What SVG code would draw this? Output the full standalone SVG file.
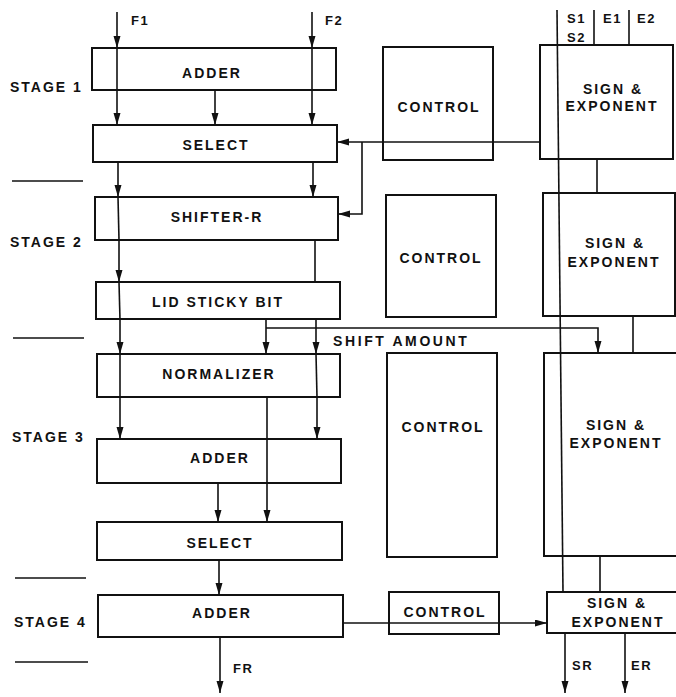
<svg xmlns="http://www.w3.org/2000/svg" width="676" height="697" viewBox="0 0 676 697">
<defs>
<marker id="ah" markerUnits="userSpaceOnUse" markerWidth="12" markerHeight="8" refX="12" refY="3.5" orient="auto">
<path d="M0,0 L12,3.5 L0,7 z" fill="#111"/>
</marker>
<style>
.box{fill:none;stroke:#111;stroke-width:2}
.ln{fill:none;stroke:#111;stroke-width:1.6}
.ar{fill:none;stroke:#111;stroke-width:1.6;marker-end:url(#ah)}
text{font-family:"Liberation Sans",Arial,sans-serif;font-weight:bold;font-size:14px;fill:#111;letter-spacing:2px}
.c{text-anchor:middle}
.sm{font-size:13px;letter-spacing:1.5px}
.sa{font-size:14px;letter-spacing:2.6px}
</style>
</defs>
<rect width="676" height="697" fill="#fff"/>

<g id="stages">
<text x="10" y="92">STAGE 1</text>
<text x="10" y="247">STAGE 2</text>
<text x="12" y="442">STAGE 3</text>
<text x="14" y="627">STAGE 4</text>
<line class="ln" x1="12" y1="181" x2="83" y2="181"/>
<line class="ln" x1="13" y1="338" x2="84" y2="338"/>
<line class="ln" x1="15" y1="578" x2="86" y2="578"/>
<line class="ln" x1="15" y1="662" x2="88" y2="662"/>
</g>

<g id="adder1"><rect class="box" x="92" y="48" width="244" height="42"/><text class="c" x="212" y="78">ADDER</text></g>
<g id="select1"><rect class="box" x="93" y="125" width="244" height="37"/><text class="c" x="216" y="150">SELECT</text></g>
<g id="shifter"><rect class="box" x="95" y="197" width="243" height="43"/><text class="c" x="217" y="222">SHIFTER-R</text></g>
<g id="lid"><rect class="box" x="96" y="282" width="244" height="37"/><text class="c" x="218" y="307">LID STICKY BIT</text></g>
<g id="normalizer"><rect class="box" x="97" y="354" width="243" height="43"/><text class="c" x="219" y="379">NORMALIZER</text></g>
<g id="adder3"><rect class="box" x="97" y="439" width="244" height="44"/><text class="c" x="220" y="463">ADDER</text></g>
<g id="select3"><rect class="box" x="97" y="522" width="245" height="38"/><text class="c" x="220" y="548">SELECT</text></g>
<g id="adder4"><rect class="box" x="98" y="595" width="245" height="42"/><text class="c" x="222" y="618">ADDER</text></g>

<g id="control1"><rect class="box" x="383" y="47" width="110" height="113"/><text class="c" x="439" y="112">CONTROL</text></g>
<g id="control2"><rect class="box" x="386" y="195" width="110" height="122"/><text class="c" x="441" y="263">CONTROL</text></g>
<g id="control3"><rect class="box" x="387" y="353" width="110" height="204"/><text class="c" x="443" y="432">CONTROL</text></g>
<g id="control4"><rect class="box" x="389" y="592" width="110" height="42"/><text class="c" x="445" y="617">CONTROL</text></g>

<g id="se1"><rect class="box" x="540" y="45" width="133" height="114"/><text class="c" x="613" y="94">SIGN &amp;</text><text class="c" x="612" y="111">EXPONENT</text></g>
<g id="se2"><rect class="box" x="543" y="193" width="132" height="123"/><text class="c" x="615" y="248">SIGN &amp;</text><text class="c" x="614" y="267">EXPONENT</text></g>
<g id="se3"><rect class="box" x="544" y="353" width="140" height="203"/><text class="c" x="616" y="430">SIGN &amp;</text><text class="c" x="616" y="448">EXPONENT</text></g>
<g id="se4"><rect class="box" x="547" y="592" width="140" height="41"/><text class="c" x="617" y="608">SIGN &amp;</text><text class="c" x="618" y="627">EXPONENT</text></g>

<g id="labels">
<text x="131" y="25" class="sm">F1</text>
<text x="325" y="25" class="sm">F2</text>
<text x="567" y="23" class="sm">S1</text>
<text x="567" y="42" class="sm">S2</text>
<text x="603" y="23" class="sm">E1</text>
<text x="637" y="23" class="sm">E2</text>
<text x="333" y="346" class="sa">SHIFT AMOUNT</text>
<text x="233" y="673" class="sm">FR</text>
<text x="572" y="670" class="sm">SR</text>
<text x="631" y="670" class="sm">ER</text>
</g>

<g id="connectors">
<line class="ar" x1="117" y1="12" x2="117" y2="48"/>
<line class="ln" x1="117" y1="48" x2="117" y2="90"/>
<line class="ar" x1="117" y1="90" x2="117" y2="125"/>
<line class="ar" x1="118" y1="162" x2="118" y2="197"/>
<line class="ln" x1="118" y1="197" x2="119" y2="240"/>
<line class="ar" x1="119" y1="240" x2="119" y2="282"/>
<line class="ln" x1="119" y1="282" x2="120" y2="320"/>
<line class="ar" x1="120" y1="320" x2="120" y2="354"/>
<line class="ln" x1="120" y1="354" x2="120" y2="397"/>
<line class="ar" x1="120" y1="397" x2="120" y2="439"/>
<line class="ar" x1="312" y1="12" x2="312" y2="48"/>
<line class="ln" x1="312" y1="48" x2="312" y2="90"/>
<line class="ar" x1="312" y1="90" x2="312" y2="125"/>
<line class="ar" x1="313" y1="162" x2="313" y2="197"/>
<line class="ln" x1="315" y1="240" x2="315" y2="282"/>
<line class="ar" x1="316" y1="320" x2="316" y2="354"/>
<line class="ln" x1="316" y1="354" x2="317" y2="397"/>
<line class="ar" x1="317" y1="397" x2="317" y2="439"/>
<line class="ar" x1="215" y1="90" x2="215" y2="125"/>
<line class="ar" x1="266" y1="320" x2="266" y2="354"/>
<polyline class="ar" points="266,328 598,328 598,353"/>
<line class="ln" x1="267" y1="397" x2="267" y2="483"/>
<line class="ar" x1="267" y1="483" x2="267" y2="522"/>
<line class="ar" x1="218" y1="483" x2="218" y2="522"/>
<line class="ar" x1="219" y1="560" x2="219" y2="595"/>
<line class="ar" x1="220" y1="637" x2="220" y2="693"/>
<line class="ar" x1="540" y1="142" x2="337" y2="142"/>
<polyline class="ar" points="362,142 362,214 338,214"/>
<line class="ar" x1="343" y1="623" x2="547" y2="623"/>
<line class="ln" x1="557" y1="10" x2="563" y2="592"/>
<line class="ln" x1="594" y1="10" x2="594" y2="45"/>
<line class="ln" x1="629" y1="10" x2="629" y2="45"/>
<line class="ln" x1="597" y1="159" x2="597" y2="193"/>
<line class="ln" x1="633" y1="316" x2="633" y2="353"/>
<line class="ln" x1="600" y1="556" x2="600" y2="592"/>
<line class="ar" x1="565" y1="633" x2="565" y2="693"/>
<line class="ar" x1="625" y1="633" x2="625" y2="693"/>
</g>
</svg>
